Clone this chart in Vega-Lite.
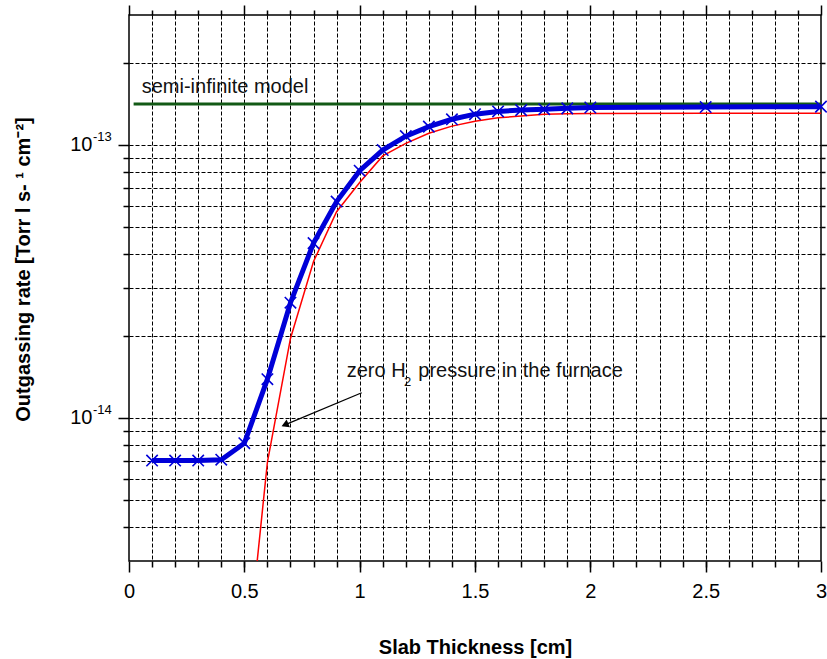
{
  "$schema": "https://vega.github.io/schema/vega-lite/v6.json",
  "width": 692,
  "height": 546,
  "autosize": {"type": "none"},
  "padding": {"left": 129, "top": 15, "right": 6, "bottom": 98},
  "background": "white",
  "config": {
    "view": {"stroke": "black", "strokeWidth": 1.5},
    "font": "Liberation Sans",
    "axis": {
      "labelFont": "Liberation Sans",
      "labelFontSize": 20,
      "labelColor": "black",
      "titleFont": "Liberation Sans",
      "titleFontSize": 20,
      "titleFontWeight": "bold",
      "titleColor": "black",
      "tickColor": "black",
      "tickWidth": 1.5,
      "domain": false,
      "gridColor": "black",
      "gridOpacity": 1,
      "gridWidth": 1,
      "gridDash": [4, 2]
    }
  },
  "datasets": {
    "series": [
      {"x": 0.02, "y": 1.415e-13, "s": "model"},
      {"x": 3.0, "y": 1.415e-13, "s": "model"},
      {"x": 0.5, "y": 1.05e-15, "s": "red"},
      {"x": 0.6, "y": 6.9e-15, "s": "red"},
      {"x": 0.7, "y": 1.96e-14, "s": "red"},
      {"x": 0.8, "y": 3.75e-14, "s": "red"},
      {"x": 0.9, "y": 5.71e-14, "s": "red"},
      {"x": 1.0, "y": 7.3e-14, "s": "red"},
      {"x": 1.1, "y": 9.14e-14, "s": "red"},
      {"x": 1.2, "y": 1.016e-13, "s": "red"},
      {"x": 1.3, "y": 1.106e-13, "s": "red"},
      {"x": 1.4, "y": 1.175e-13, "s": "red"},
      {"x": 1.5, "y": 1.225e-13, "s": "red"},
      {"x": 1.6, "y": 1.26e-13, "s": "red"},
      {"x": 1.7, "y": 1.28e-13, "s": "red"},
      {"x": 1.8, "y": 1.3e-13, "s": "red"},
      {"x": 1.9, "y": 1.305e-13, "s": "red"},
      {"x": 2.0, "y": 1.307e-13, "s": "red"},
      {"x": 2.5, "y": 1.31e-13, "s": "red"},
      {"x": 3.0, "y": 1.31e-13, "s": "red"},
      {"x": 0.1, "y": 7.0e-15, "s": "blue"},
      {"x": 0.2, "y": 7.0e-15, "s": "blue"},
      {"x": 0.3, "y": 7.0e-15, "s": "blue"},
      {"x": 0.4, "y": 7.05e-15, "s": "blue"},
      {"x": 0.5, "y": 8.1e-15, "s": "blue"},
      {"x": 0.6, "y": 1.39e-14, "s": "blue"},
      {"x": 0.7, "y": 2.65e-14, "s": "blue"},
      {"x": 0.8, "y": 4.38e-14, "s": "blue"},
      {"x": 0.9, "y": 6.22e-14, "s": "blue"},
      {"x": 1.0, "y": 8.07e-14, "s": "blue"},
      {"x": 1.1, "y": 9.6e-14, "s": "blue"},
      {"x": 1.2, "y": 1.08e-13, "s": "blue"},
      {"x": 1.3, "y": 1.17e-13, "s": "blue"},
      {"x": 1.4, "y": 1.245e-13, "s": "blue"},
      {"x": 1.5, "y": 1.3e-13, "s": "blue"},
      {"x": 1.6, "y": 1.33e-13, "s": "blue"},
      {"x": 1.7, "y": 1.345e-13, "s": "blue"},
      {"x": 1.8, "y": 1.355e-13, "s": "blue"},
      {"x": 1.9, "y": 1.365e-13, "s": "blue"},
      {"x": 2.0, "y": 1.375e-13, "s": "blue"},
      {"x": 2.5, "y": 1.38e-13, "s": "blue"},
      {"x": 3.0, "y": 1.385e-13, "s": "blue"}
    ],
    "notes": [
      {"x": 0.055, "y": 1.55e-13, "t": "semi-infinite model", "k": "main"},
      {"x": 0.9437, "y": 1.42e-14, "t": "zero H", "k": "main"},
      {"x": 1.192, "y": 1.318e-14, "t": "2", "k": "sub"},
      {"x": 1.254, "y": 1.42e-14, "t": "pressure in the furnace", "k": "main"}
    ],
    "exponents": [
      {"x": 0, "y": 1e-13, "t": "-13"},
      {"x": 0, "y": 1e-14, "t": "-14"}
    ],
    "arrow": [
      {"x": 1.009, "y": 1.24e-14, "x2": 0.668, "y2": 9.4e-15, "hx": 0.676, "hy": 9.47e-15}
    ]
  },
  "resolve": {"axis": {"x": "independent", "y": "independent"}},
  "layer": [
    {
      "data": {"name": "series"},
      "transform": [{"filter": "datum.s === 'model'"}],
      "mark": {"type": "line", "color": "#135a16", "strokeWidth": 3, "clip": true},
      "encoding": {
        "x": {"field": "x", "type": "quantitative",
          "scale": {"domain": [0, 3], "nice": false, "zero": false},
          "axis": {"orient": "bottom", "values": [0.1,0.2,0.3,0.4,0.5,0.6,0.7,0.8,0.9,1,1.1,1.2,1.3,1.4,1.5,1.6,1.7,1.8,1.9,2,2.1,2.2,2.3,2.4,2.5,2.6,2.7,2.8,2.9],
            "grid": true, "labels": false, "ticks": true, "tickSize": 6, "title": null}},
        "y": {"field": "y", "type": "quantitative",
          "scale": {"type": "log", "domain": [3e-15, 3e-13], "nice": false},
          "axis": {"orient": "left", "values": [4e-15,5e-15,6e-15,7e-15,8e-15,9e-15,2e-14,3e-14,4e-14,5e-14,6e-14,7e-14,8e-14,9e-14,2e-13],
            "grid": true, "labels": false, "tickSize": 6, "title": null}}
      }
    },
    {
      "data": {"name": "series"},
      "transform": [{"filter": "datum.s === 'red'"}],
      "mark": {"type": "line", "color": "#ff0000", "strokeWidth": 1.5, "clip": true},
      "encoding": {
        "x": {"field": "x", "type": "quantitative",
          "scale": {"domain": [0, 3], "nice": false, "zero": false},
          "axis": {"orient": "bottom", "values": [0, 0.5, 1, 1.5, 2, 2.5, 3], "format": "~g",
            "grid": false, "tickSize": 11, "labelPadding": 9, "labelFlush": false, "labelOverlap": false,
            "title": "Slab Thickness [cm]", "titleX": 346, "titleY": 92, "titleBaseline": "alphabetic", "titleAlign": "center"}},
        "y": {"field": "y", "type": "quantitative",
          "scale": {"type": "log", "domain": [3e-15, 3e-13], "nice": false},
          "axis": {"orient": "left", "values": [1e-14, 1e-13], "grid": true, "tickSize": 11, "labelPadding": 26,
            "labelExpr": "'10'", "labelFlush": false, "labelBaseline": "middle", "labelOffset": -1,
            "title": "Outgassing rate [Torr l s- ¹ cm⁻²]", "titleX": -106, "titleY": 254, "titleAngle": -90,
            "titleAlign": "center", "titleBaseline": "middle"}}
      }
    },
    {
      "data": {"name": "series"},
      "transform": [{"filter": "datum.s === 'blue'"}],
      "mark": {"type": "line", "color": "#0000d8", "strokeWidth": 5, "clip": true},
      "encoding": {
        "x": {"field": "x", "type": "quantitative",
          "scale": {"domain": [0, 3], "nice": false, "zero": false},
          "axis": {"orient": "top", "values": [0.1,0.2,0.3,0.4,0.6,0.7,0.8,0.9,1.1,1.2,1.3,1.4,1.6,1.7,1.8,1.9,2.1,2.2,2.3,2.4,2.6,2.7,2.8,2.9],
            "grid": false, "labels": false, "tickSize": 5, "title": null}},
        "y": {"field": "y", "type": "quantitative",
          "scale": {"type": "log", "domain": [3e-15, 3e-13], "nice": false},
          "axis": {"orient": "right", "values": [4e-15,5e-15,6e-15,7e-15,8e-15,9e-15,2e-14,3e-14,4e-14,5e-14,6e-14,7e-14,8e-14,9e-14,2e-13],
            "grid": false, "labels": false, "tickSize": 4, "title": null}}
      }
    },
    {
      "data": {"name": "series"},
      "transform": [{"filter": "datum.s === 'blue'"}],
      "mark": {"type": "point", "shape": "M-1,-1L1,1M-1,1L1,-1", "size": 130, "filled": false, "stroke": "#0000d8", "strokeWidth": 1.6, "opacity": 1},
      "encoding": {
        "x": {"field": "x", "type": "quantitative",
          "scale": {"domain": [0, 3], "nice": false, "zero": false},
          "axis": {"orient": "top", "values": [0, 0.5, 1, 1.5, 2, 2.5, 3], "grid": false, "labels": false, "tickSize": 10, "title": null}},
        "y": {"field": "y", "type": "quantitative",
          "scale": {"type": "log", "domain": [3e-15, 3e-13], "nice": false},
          "axis": {"orient": "right", "values": [1e-14, 1e-13], "grid": false, "labels": false, "tickSize": 8, "title": null}}
      }
    },
    {
      "data": {"name": "notes"},
      "transform": [{"filter": "datum.k === 'main'"}],
      "mark": {"type": "text", "align": "left", "baseline": "alphabetic", "font": "Liberation Sans", "fontSize": 20, "color": "#111111"},
      "encoding": {
        "x": {"field": "x", "type": "quantitative", "scale": {"domain": [0, 3], "nice": false, "zero": false}, "axis": null},
        "y": {"field": "y", "type": "quantitative", "scale": {"type": "log", "domain": [3e-15, 3e-13], "nice": false}, "axis": null},
        "text": {"field": "t"}
      }
    },
    {
      "data": {"name": "notes"},
      "transform": [{"filter": "datum.k === 'sub'"}],
      "mark": {"type": "text", "align": "left", "baseline": "alphabetic", "font": "Liberation Sans", "fontSize": 13, "color": "#111111"},
      "encoding": {
        "x": {"field": "x", "type": "quantitative", "scale": {"domain": [0, 3], "nice": false, "zero": false}, "axis": null},
        "y": {"field": "y", "type": "quantitative", "scale": {"type": "log", "domain": [3e-15, 3e-13], "nice": false}, "axis": null},
        "text": {"field": "t"}
      }
    },
    {
      "data": {"name": "exponents"},
      "mark": {"type": "text", "align": "left", "baseline": "alphabetic", "font": "Liberation Sans", "fontSize": 13, "color": "black", "dx": -36, "dy": -4, "clip": false},
      "encoding": {
        "x": {"field": "x", "type": "quantitative", "scale": {"domain": [0, 3], "nice": false, "zero": false}, "axis": null},
        "y": {"field": "y", "type": "quantitative", "scale": {"type": "log", "domain": [3e-15, 3e-13], "nice": false}, "axis": null},
        "text": {"field": "t"}
      }
    },
    {
      "data": {"name": "arrow"},
      "mark": {"type": "rule", "color": "black", "strokeWidth": 1.3},
      "encoding": {
        "x": {"field": "x", "type": "quantitative", "scale": {"domain": [0, 3], "nice": false, "zero": false}, "axis": null},
        "y": {"field": "y", "type": "quantitative", "scale": {"type": "log", "domain": [3e-15, 3e-13], "nice": false}, "axis": null},
        "x2": {"field": "x2"},
        "y2": {"field": "y2"}
      }
    },
    {
      "data": {"name": "arrow"},
      "mark": {"type": "point", "shape": "triangle-right", "size": 70, "filled": true, "color": "black", "angle": 157, "opacity": 1},
      "encoding": {
        "x": {"field": "hx", "type": "quantitative", "scale": {"domain": [0, 3], "nice": false, "zero": false}, "axis": null},
        "y": {"field": "hy", "type": "quantitative", "scale": {"type": "log", "domain": [3e-15, 3e-13], "nice": false}, "axis": null}
      }
    }
  ]
}
